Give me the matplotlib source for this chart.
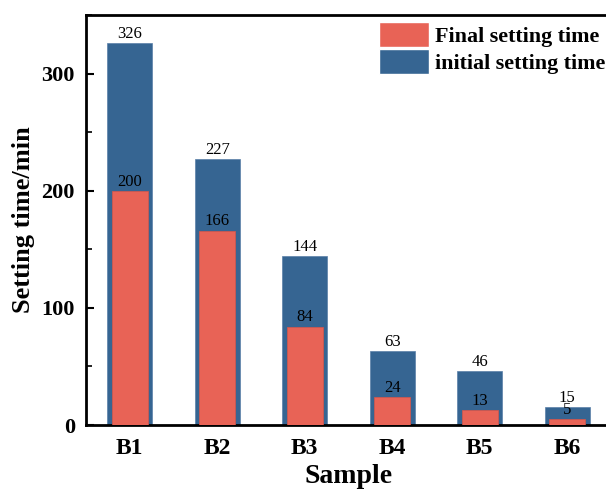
import matplotlib
matplotlib.use("Agg")
import matplotlib.pyplot as plt
from matplotlib.ticker import MultipleLocator
from matplotlib.patches import Patch

samples = ["B1", "B2", "B3", "B4", "B5", "B6"]
initial_setting = [326, 227, 144, 63, 46, 15]
final_setting = [200, 166, 84, 24, 13, 5]

blue = "#366592"
red = "#E86356"

plt.rcParams["font.family"] = ["Liberation Serif", "DejaVu Serif"]

fig = plt.figure(figsize=(6.06, 4.90), dpi=100)
ax = fig.add_axes([86/606, 65/490, (611-86)/606, (425-15)/490])

x = list(range(1, len(samples) + 1))
ax.bar(x, initial_setting, width=0.51, color=blue, edgecolor="#5a80a8", linewidth=0.5, zorder=2)
ax.bar(x, final_setting, width=0.41, color=red, edgecolor="#d85648", linewidth=0.5, zorder=3)

for xi, v in zip(x, initial_setting):
    ax.text(xi, v + 1, str(v), ha="center", va="bottom", fontsize=12, zorder=4)
for xi, v in zip(x, final_setting):
    ax.text(xi, v + 1, str(v), ha="center", va="bottom", fontsize=12, zorder=4)

ax.set_xlim(0.5, 6.5)
ax.set_ylim(0, 350)
ax.set_xticks(x)
ax.set_xticklabels(samples, fontsize=17, fontweight="bold")
ax.yaxis.set_major_locator(MultipleLocator(100))
ax.yaxis.set_minor_locator(MultipleLocator(50))
ax.tick_params(axis="y", which="major", direction="in", length=6, width=1.5, labelsize=16)
ax.tick_params(axis="y", which="minor", direction="in", length=4, width=1.2)
ax.tick_params(axis="x", length=0, pad=9)
ax.tick_params(axis="y", pad=8)
for lbl in ax.get_yticklabels():
    lbl.set_fontweight("bold")
for s in ax.spines.values():
    s.set_linewidth(2)

ax.set_xlabel("Sample", fontsize=20, fontweight="bold", labelpad=4)
ax.set_ylabel("Setting time/min", fontsize=19, fontweight="bold", labelpad=5)

handles = [Patch(facecolor=red, edgecolor="white"), Patch(facecolor=blue, edgecolor="white")]
leg = ax.legend(handles, ["Final setting time", "initial setting time"],
                loc="upper left", bbox_to_anchor=((379-86)/525, 0.983), frameon=False,
                prop={"weight": "bold", "size": 15.8}, handlelength=2.3, handleheight=1.35,
                handletextpad=0.25, labelspacing=0.12, borderaxespad=0, borderpad=0)

fig.savefig("out.png", dpi=100)
